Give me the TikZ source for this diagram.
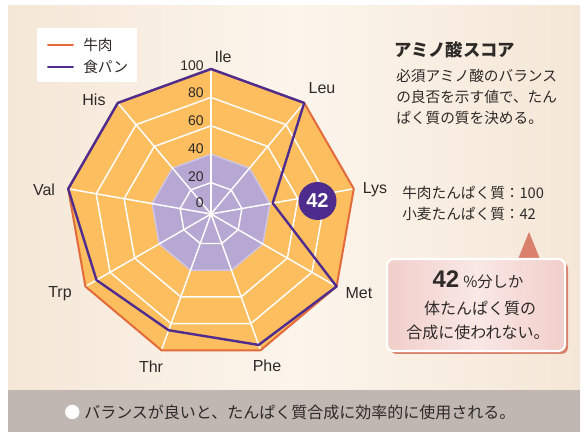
\documentclass[tikz,border=0pt]{standalone}
\usepackage{fontspec}
\setmainfont{Liberation Sans}
\setsansfont{Liberation Sans}
\newfontfamily\jp{Noto Sans CJK JP}
\usepackage{xcolor}
\usetikzlibrary{calc, positioning}
\definecolor{bgside}{RGB}{245,231,215}
\definecolor{bgmid}{RGB}{252,245,236}
\definecolor{beeffill}{RGB}{253,190,96}
\definecolor{beefline}{RGB}{227,107,59}
\definecolor{breadline}{RGB}{78,45,143}
\definecolor{breadfill}{RGB}{182,168,210}
\definecolor{ringlav}{RGB}{206,196,228}
\definecolor{badge}{RGB}{78,44,142}
\definecolor{barfill}{RGB}{192,182,178}
\definecolor{salmon}{RGB}{217,129,108}
\definecolor{pinkA}{RGB}{241,206,202}
\definecolor{pinkB}{RGB}{249,232,229}
\definecolor{inkgray}{RGB}{45,42,40}

\begin{document}
\begin{tikzpicture}[line cap=round,line join=round,x=0.75pt,y=0.75pt]
\tikzstyle{every node}=[font=\sffamily, text=inkgray, inner sep=0pt]
\tikzstyle{axislabel}=[font=\sffamily\fontsize{12}{14}\selectfont]
\tikzstyle{ticklabel}=[anchor=east, font=\sffamily\fontsize{10.5}{12}\selectfont]
\tikzstyle{jpsmall}=[anchor=west, font=\jp\fontsize{11}{13}\selectfont]
\tikzstyle{jplarge}=[font=\jp\fontsize{12}{14}\selectfont]
\tikzstyle{webline}=[white, line width=1.1pt]
\useasboundingbox (0,0) rectangle (586,432);
\fill[white] (0,0) rectangle (586,432);
\shade[left color=bgside, right color=bgside, middle color=bgmid] (8,0) rectangle (580,426);
% radar chart
\begin{scope}[shift={(211,218)}]
\foreach \i in {0,...,8}
\coordinate (beef\i) at ({90-40*\i}:145);
\foreach \v [count=\i from 0] in {100,100,42,100,96,85,91,100,100}
\coordinate (bread\i) at ({90-40*\i}:{3+1.42*\v});
\fill[beeffill] (beef0) \foreach \i in {1,...,8}{-- (beef\i)} -- cycle;
\fill[breadfill] (90:{3+1.42*40}) \foreach \i in {1,...,8}{-- ({90-40*\i}:{3+1.42*40})} -- cycle;
\foreach \v in {20,60,80}
\draw[webline] (90:{3+1.42*\v}) \foreach \i in {1,...,8}{-- ({90-40*\i}:{3+1.42*\v})} -- cycle;
\draw[ringlav, line width=1.1pt] (90:{3+1.42*40}) \foreach \i in {1,...,8}{-- ({90-40*\i}:{3+1.42*40})} -- cycle;
\foreach \i in {0,...,8}
\draw[webline] (0,0) -- (beef\i);
\draw[beefline, line width=1.5pt] (beef0) \foreach \i in {1,...,8}{-- (beef\i)} -- cycle;
\draw[breadline, line width=1.8pt] (bread0) \foreach \i in {1,...,8}{-- (bread\i)} -- cycle;
\end{scope}
\foreach \v/\y in {100/366,80/339,60/311,40/283,20/255,0/229}
\draw (204,\y) node[ticklabel] (tick\v) {\v};
\foreach \n/\x/\y in {Ile/223/375,Leu/322/344,Lys/375/242,Met/359/139,Phe/267/66,Thr/151/65,Trp/60/138,Val/44/242,His/94/332}
\draw (\x,\y) node[axislabel] (lab\n) {\n};
\node[circle, fill=badge, minimum size=28.5pt, text=white, font=\sffamily\bfseries\fontsize{15}{16}\selectfont] (badge) at (317.5,231) {42};
% legend
\fill[white] (37,350) rectangle (137,404);
\draw[beefline, line width=1.5pt] (48,387) -- (73,387);
\draw[breadline, line width=1.5pt] (48,365) -- (73,365);
\draw (83,387) node[jpsmall] (legbeef) {牛肉};
\draw (83,365) node[jpsmall] (legbread) {食パン};
% texts on the right
\draw (394,382) node[anchor=west, font=\jp\bfseries\fontsize{13}{15}\selectfont] (title) {アミノ酸スコア};
\draw (396,356) node[jpsmall] (descA) {必須アミノ酸のバランス};
\draw (396,335) node[jpsmall] (descB) {の良否を示す値で、たん};
\draw (396,314) node[jpsmall] (descC) {ぱく質の質を決める。};
\draw (402,239) node[jpsmall] (scorebeef) {牛肉たんぱく質：100};
\draw (402,218) node[jpsmall] (scorewheat) {小麦たんぱく質：42};
% callout
\fill[salmon, rounded corners=5pt] (390,78) rectangle (568,170);
\fill[salmon] (516,168) -- (529,200) -- (542,168) -- cycle;
\shade[rounded corners=5pt, left color=pinkA, right color=pinkA, middle color=pinkB] (387,81) rectangle (565,173);
\draw[white, line width=1.6pt, rounded corners=5pt] (387,81) rectangle (565,173);
\draw (478,152) node[jplarge] (callA) {{\sffamily\bfseries\fontsize{18}{20}\selectfont 42}\hspace{3pt}{\jp\fontsize{11.5}{13}\selectfont\%分しか}};
\draw (480,124) node[jplarge] (callB) {体たんぱく質の};
\draw (478,100) node[jplarge] (callC) {合成に使われない。};
% bottom bar
\fill[barfill] (8,0) rectangle (580,42);
\draw (64,20) node[anchor=west, jplarge] (bartext) {{\color{white}●}\hspace{3pt}バランスが良いと、たんぱく質合成に効率的に使用される。};
\end{tikzpicture}
\end{document}
